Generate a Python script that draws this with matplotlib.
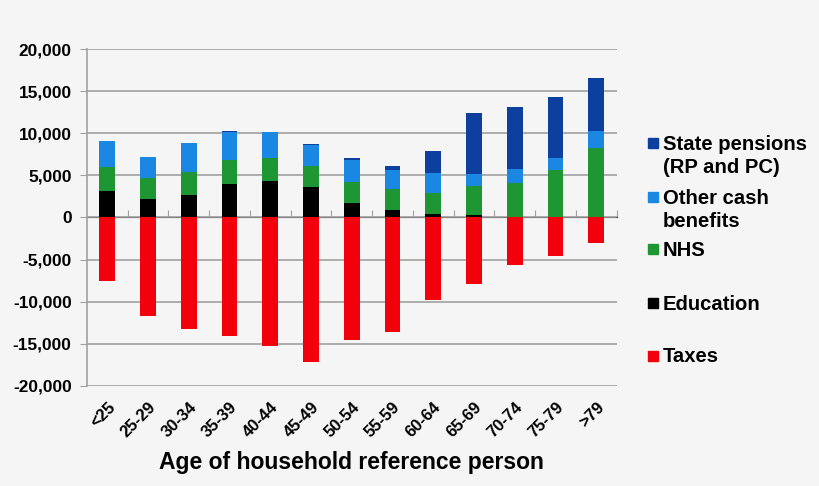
import matplotlib
matplotlib.use('Agg')

import matplotlib.pyplot as plt
from matplotlib.patches import Rectangle
from matplotlib.ticker import FuncFormatter

plt.rcParams['font.family'] = ['Liberation Sans', 'DejaVu Sans']
plt.rcParams['font.weight'] = 'bold'
plt.rcParams['axes.labelweight'] = 'bold'

ages = ['<25', '25-29', '30-34', '35-39', '40-44', '45-49', '50-54',
        '55-59', '60-64', '65-69', '70-74', '75-79', '>79']

education = [3100, 2190, 2620, 4000, 4330, 3600, 1710, 920, 440, 240, 50, 20, 0]
nhs = [2850, 2460, 2820, 2830, 2770, 2550, 2540, 2410, 2460, 3450, 4050, 5660, 8260]
other_cash = [3100, 2550, 3360, 3380, 3060, 2420, 2580, 2270, 2380, 1480, 1610, 1420, 2030]
state_pensions = [0, 0, 100, 30, 0, 160, 190, 470, 2660, 7290, 7470, 7190, 6260]
taxes = [-7540, -11740, -13200, -14050, -15270, -17180, -14560, -13650,
         -9840, -7890, -5670, -4560, -3010]

series = [
    ('State pensions\n(RP and PC)', '#0d3f9f'),
    ('Other cash\nbenefits', '#1a88e2'),
    ('NHS', '#1f9634'),
    ('Education', '#000000'),
    ('Taxes', '#f2000c'),
]

bg = '#f5f5f5'
fig = plt.figure(figsize=(8.2, 4.86), dpi=100, facecolor=bg)
ax = fig.add_axes([0.106, 0.206, 0.646, 0.693], facecolor=bg)

x = list(range(len(ages)))
w = 0.39

bottom = [0] * len(ages)
for vals, col in [(education, '#000000'), (nhs, '#1f9634'),
                  (other_cash, '#1a88e2'), (state_pensions, '#0d3f9f')]:
    ax.bar(x, vals, w, bottom=bottom, color=col, zorder=3)
    bottom = [b + v for b, v in zip(bottom, vals)]
ax.bar(x, taxes, w, color='#f2000c', zorder=3)

ax.set_xlim(-0.5, len(ages) - 0.5)
ax.set_ylim(-20000, 20000)
ax.set_yticks(range(-20000, 20001, 5000))
ax.yaxis.set_major_formatter(FuncFormatter(lambda v, p: f'{v:,.0f}'))
ax.grid(axis='y', color='#a0a0a0', linewidth=1.2, zorder=0)
ax.tick_params(axis='y', length=5, color='#a0a0a0', labelsize=12.4, pad=6)

ax.set_xticks(x)
ax.set_xticklabels(ages, rotation=45, ha='right', rotation_mode='anchor',
                   fontsize=12)
ax.tick_params(axis='x', length=0, pad=10)
ax.set_xlabel('Age of household reference person', fontsize=16.5, va='top')
ax.xaxis.set_label_coords(0.5, -0.193)

for s in ['top', 'right', 'bottom']:
    ax.spines[s].set_visible(False)
ax.spines['left'].set_color('#a0a0a0')
ax.spines['left'].set_linewidth(1.2)

# zero line with category boundary ticks
zero = ax.secondary_xaxis(0.5)
zero.set_xticks([i + 0.5 for i in x[:-1]] + [len(ages) - 0.5])
zero.set_xticklabels([])
zero.tick_params(length=5, color='#a0a0a0')
zero.spines['bottom'].set_color('#a0a0a0')
zero.spines['bottom'].set_linewidth(1.2)

# legend
ly = [0.706, 0.595, 0.488, 0.377, 0.268]
for (label, col), y in zip(series, ly):
    fig.patches.append(Rectangle((0.790, y - 0.010), 0.0122, 0.0206,
                                 transform=fig.transFigure, color=col))
    fig.text(0.808, y + 0.017, label, fontsize=14.6, va='top', ha='left',
             linespacing=1.28)

fig.savefig('out.png', dpi=100, facecolor=bg)
